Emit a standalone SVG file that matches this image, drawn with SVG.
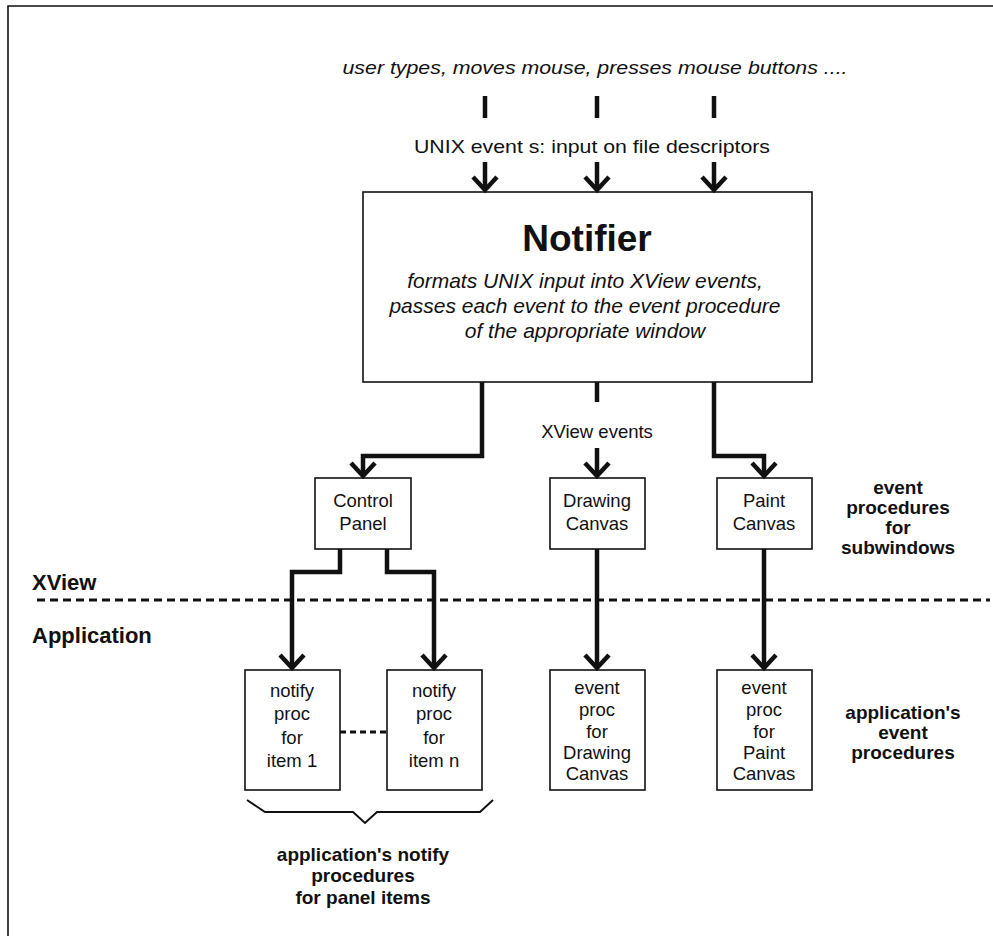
<svg xmlns="http://www.w3.org/2000/svg" width="993" height="936" viewBox="0 0 993 936">
<style>
text{font-family:"Liberation Sans",Arial,sans-serif;fill:#111;text-anchor:middle}
.it{font-style:italic;font-size:19px}
.nt{font-style:italic;font-size:21px}
.bx{font-size:18.5px}
.ann{font-size:19px;font-weight:bold}
.side{font-size:22px;font-weight:bold;text-anchor:start}
.box{fill:#fff;stroke:#111;stroke-width:1.6}
.conn{fill:none;stroke:#111;stroke-width:4.5}
.arr{marker-end:url(#ah)}
.dash{fill:none;stroke:#111;stroke-width:3;stroke-dasharray:8 5}
</style>
<defs>
<marker id="ah" markerUnits="userSpaceOnUse" markerWidth="20" markerHeight="30" viewBox="0 0 20 30" refX="15" refY="15" orient="auto">
<path d="M2,3 L15,15 L2,27" fill="none" stroke="#111" stroke-width="4.5"/>
</marker>
</defs>
<rect width="993" height="936" fill="#fff"/>
<path d="M8,936 V6 H993" fill="none" stroke="#111" stroke-width="1.6"/>

<g id="input">
<text class="it" x="595" y="74" textLength="505" lengthAdjust="spacingAndGlyphs">user types, moves mouse, presses mouse buttons ....</text>
<text class="bx" x="592" y="153" textLength="356" lengthAdjust="spacingAndGlyphs">UNIX event s: input on file descriptors</text>
</g>

<g id="notifier">
<rect class="box" x="363" y="192" width="449" height="190"/>
<text x="587" y="251" style="font-size:37px;font-weight:bold">Notifier</text>
<text class="nt" x="585" y="288">formats UNIX input into XView events,</text>
<text class="nt" x="585" y="313">passes each event to the event procedure</text>
<text class="nt" x="585" y="338">of the appropriate window</text>
</g>

<g id="control-panel">
<rect class="box" x="315" y="478" width="96" height="71"/>
<text class="bx" x="363" y="507">Control</text>
<text class="bx" x="363" y="530">Panel</text>
</g>
<g id="drawing-canvas">
<rect class="box" x="550" y="478" width="95" height="71"/>
<text class="bx" x="597" y="507">Drawing</text>
<text class="bx" x="597" y="530">Canvas</text>
</g>
<g id="paint-canvas">
<rect class="box" x="717" y="478" width="95" height="71"/>
<text class="bx" x="764" y="507">Paint</text>
<text class="bx" x="764" y="530">Canvas</text>
</g>

<g id="subwindow-label">
<text class="ann" x="898" y="494">event</text>
<text class="ann" x="898" y="514">procedures</text>
<text class="ann" x="898" y="534">for</text>
<text class="ann" x="898" y="554">subwindows</text>
</g>

<g id="layers">
<text class="side" x="32" y="590">XView</text>
<text class="side" x="32" y="643">Application</text>
</g>

<g id="notify-1">
<rect class="box" x="245" y="670" width="95" height="120"/>
<text class="bx" x="292" y="697">notify</text>
<text class="bx" x="292" y="720">proc</text>
<text class="bx" x="292" y="744">for</text>
<text class="bx" x="292" y="767">item 1</text>
</g>
<g id="notify-n">
<rect class="box" x="387" y="670" width="95" height="120"/>
<text class="bx" x="434" y="697">notify</text>
<text class="bx" x="434" y="720">proc</text>
<text class="bx" x="434" y="744">for</text>
<text class="bx" x="434" y="767">item n</text>
</g>
<g id="drawing-proc">
<rect class="box" x="550" y="670" width="95" height="120"/>
<text class="bx" x="597" y="694">event</text>
<text class="bx" x="597" y="716">proc</text>
<text class="bx" x="597" y="738">for</text>
<text class="bx" x="597" y="759">Drawing</text>
<text class="bx" x="597" y="780">Canvas</text>
</g>
<g id="paint-proc">
<rect class="box" x="717" y="670" width="95" height="120"/>
<text class="bx" x="764" y="694">event</text>
<text class="bx" x="764" y="716">proc</text>
<text class="bx" x="764" y="738">for</text>
<text class="bx" x="764" y="759">Paint</text>
<text class="bx" x="764" y="780">Canvas</text>
</g>

<g id="app-event-label">
<text class="ann" x="903" y="719">application's</text>
<text class="ann" x="903" y="739">event</text>
<text class="ann" x="903" y="759">procedures</text>
</g>

<g id="panel-items-label">
<path d="M247,800 L265,812 H353 L365,823 L377,812 H480 L493,800" fill="none" stroke="#111" stroke-width="2"/>
<text class="ann" x="363" y="861">application's notify</text>
<text class="ann" x="363" y="882">procedures</text>
<text class="ann" x="363" y="904">for panel items</text>
</g>

<g id="connectors">
<path class="conn" d="M485,96 V118 M597,96 V118 M714,96 V118"/>
<path class="conn arr" d="M485,162 V190"/>
<path class="conn arr" d="M597,162 V190"/>
<path class="conn arr" d="M714,162 V190"/>
<path class="conn arr" d="M482,382 V456 H363 V476"/>
<path class="conn" d="M597,382 V402"/>
<text class="bx" x="597" y="438">XView events</text>
<path class="conn arr" d="M597,448 V476"/>
<path class="conn arr" d="M714,382 V456 H764 V476"/>
<path class="conn arr" d="M340,549 V572 H292 V668"/>
<path class="conn arr" d="M387,549 V572 H434 V668"/>
<path class="conn arr" d="M597,549 V668"/>
<path class="conn arr" d="M764,549 V668"/>
<path class="dash" d="M37,600 H990"/>
<path class="dash" d="M340,732 H387" style="stroke-dasharray:6 4"/>
</g>
</svg>
